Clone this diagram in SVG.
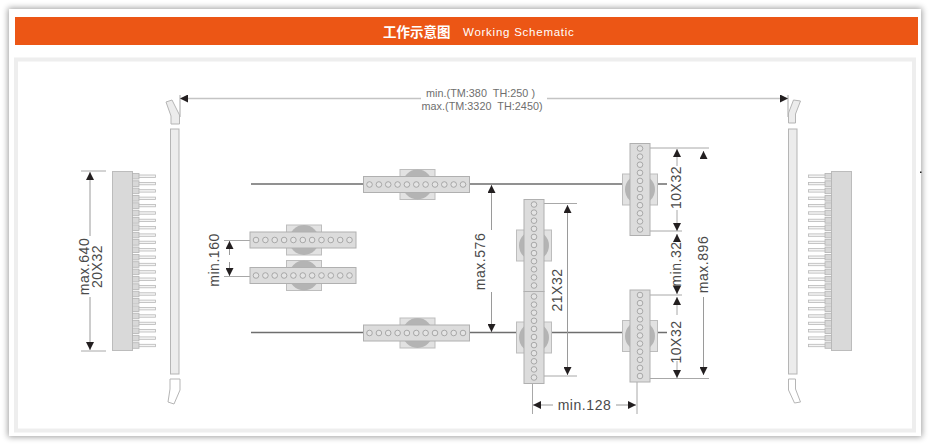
<svg xmlns="http://www.w3.org/2000/svg" xmlns:xlink="http://www.w3.org/1999/xlink" width="929" height="447" viewBox="0 0 929 447">
<style>
text{font-family:"Liberation Sans",Arial,sans-serif;fill:#4a4a4a}
.dim{font-size:14px;letter-spacing:.55px}
.top{font-size:10.8px;fill:#6e6e6e;letter-spacing:.03px}
.ln{stroke:#a8a8a8;stroke-width:1;fill:none}
.lk{stroke:#9a9a9a;stroke-width:1;fill:none}
.ar{marker-end:url(#ah)}
.wire{stroke:#6e6e6e;stroke-width:1.6;fill:none}
.plate{fill:#e2e2e2;stroke:#bdbdbd;stroke-width:1}
.disc{fill:#b4b4b4}
.bar{fill:#dcdcdc;stroke:#b0b0b0;stroke-width:1}
.hole{fill:#e4e4e4;stroke:#999;stroke-width:.8}
.rail{fill:#ececec;stroke:#b5b5b5;stroke-width:1}
.clip{fill:#ececec;stroke:#b5b5b5;stroke-width:1}
.clipo{fill:#fff;stroke:#b5b5b5;stroke-width:1}
.block{fill:#d9d9d9;stroke:#bcbcbc;stroke-width:1}
.sock{fill:#d8d8d8;stroke:#b4b4b4;stroke-width:.8}
.pin{fill:#f4f4f4;stroke:#b8b8b8;stroke-width:.8}
</style>
<defs>
<filter id="sh" x="-3%" y="-4%" width="106%" height="108%"><feGaussianBlur stdDeviation="3"/></filter>
<marker id="ah" viewBox="0 0 8 8" refX="8" refY="4" markerWidth="8" markerHeight="8" markerUnits="userSpaceOnUse" orient="auto"><path d="M0,0L8,4L0,8Z" fill="#231f20"/></marker>
<g id="hu">
<rect class="plate" x="-17.5" y="-15" width="35" height="30"/>
<circle class="disc" cx="0" cy="0" r="15"/>
<rect class="bar" x="-54" y="-8" width="106" height="16"/>
<g class="hole"><circle cx="-48" cy="0" r="2.8"/><circle cx="-38.6" cy="0" r="2.8"/><circle cx="-29.3" cy="0" r="2.8"/><circle cx="-19.9" cy="0" r="2.8"/><circle cx="-10.6" cy="0" r="2.8"/><circle cx="-1.2" cy="0" r="2.8"/><circle cx="8.1" cy="0" r="2.8"/><circle cx="17.5" cy="0" r="2.8"/><circle cx="26.8" cy="0" r="2.8"/><circle cx="36.2" cy="0" r="2.8"/><circle cx="45.5" cy="0" r="2.8"/></g>
</g>
<g id="vu">
<rect class="plate" x="-17.5" y="-15.5" width="35" height="31"/>
<circle class="disc" cx="0" cy="0" r="15"/>
<rect class="bar" x="-10" y="-46" width="20" height="92"/>
<g class="hole"><circle cx="0" cy="-41" r="2.8"/><circle cx="0" cy="-32.9" r="2.8"/><circle cx="0" cy="-24.8" r="2.8"/><circle cx="0" cy="-16.7" r="2.8"/><circle cx="0" cy="-8.6" r="2.8"/><circle cx="0" cy="-.5" r="2.8"/><circle cx="0" cy="7.6" r="2.8"/><circle cx="0" cy="15.7" r="2.8"/><circle cx="0" cy="23.8" r="2.8"/><circle cx="0" cy="31.9" r="2.8"/><circle cx="0" cy="40" r="2.8"/></g>
</g>
<g id="p"><rect class="pin" x="6" y="-1.2" width="17" height="2.4"/><rect class="sock" x="0" y="-2.8" width="6.5" height="5.6"/></g>
<g id="conn">
<rect class="block" x="0" y="0" width="20" height="179"/>
<use xlink:href="#p" x="20" y="4.7"/><use xlink:href="#p" x="20" y="12.1"/><use xlink:href="#p" x="20" y="19.4"/><use xlink:href="#p" x="20" y="26.8"/><use xlink:href="#p" x="20" y="34.1"/><use xlink:href="#p" x="20" y="41.5"/><use xlink:href="#p" x="20" y="48.9"/><use xlink:href="#p" x="20" y="56.2"/><use xlink:href="#p" x="20" y="63.6"/><use xlink:href="#p" x="20" y="70.9"/><use xlink:href="#p" x="20" y="78.3"/><use xlink:href="#p" x="20" y="85.7"/><use xlink:href="#p" x="20" y="93"/><use xlink:href="#p" x="20" y="100.4"/><use xlink:href="#p" x="20" y="107.7"/><use xlink:href="#p" x="20" y="115.1"/><use xlink:href="#p" x="20" y="122.5"/><use xlink:href="#p" x="20" y="129.8"/><use xlink:href="#p" x="20" y="137.2"/><use xlink:href="#p" x="20" y="144.5"/><use xlink:href="#p" x="20" y="151.9"/><use xlink:href="#p" x="20" y="159.3"/><use xlink:href="#p" x="20" y="166.6"/><use xlink:href="#p" x="20" y="174"/>
</g>
</defs>

<g id="frame">
<rect x="8" y="8" width="914" height="429" fill="#000" opacity=".38" filter="url(#sh)"/>
<rect x="9" y="9" width="912" height="427" fill="#fff"/>
<rect x="15" y="17" width="903" height="28" fill="#ec5615"/>
<rect x="16" y="59.5" width="898" height="371" fill="#fff" stroke="#eeeeee" stroke-width="4"/>
<rect x="920" y="171.5" width="1.5" height="1.5" fill="#222"/>
<text x="383" y="37" font-size="13.5" font-weight="700" style="font-family:'Noto Sans CJK SC','Liberation Sans',sans-serif;fill:#fff">工作示意图</text>
<text x="463" y="36" font-size="11.5" style="fill:#fff;letter-spacing:.75px">Working Schematic</text>
</g>

<g id="connectors">
<path class="wire" d="M251,184H667M251,332.5H667"/>
<g id="dim-top">
<path class="ln" d="M180,95V117M788,95V117"/>
<path class="ln ar" style="stroke:#c4c4c4;stroke-width:1.5" d="M421,98.5H180"/>
<path class="ln ar" style="stroke:#c4c4c4;stroke-width:1.5" d="M547,98.5H788"/>
</g>
<g id="dim-640">
<path class="ln" d="M81,171H106M81,351H106"/>
<path class="lk ar" d="M90,236V172"/><path class="lk ar" d="M90,297V350"/>
</g>
<g id="dim-160">
<path class="ln" d="M224,240.5H250M224,276.5H250"/>
<path class="lk ar" d="M229.5,255V241"/><path class="lk ar" d="M229.5,262V276"/>
</g>
<g id="dim-576">
<path class="lk ar" d="M491.5,230V185"/><path class="lk ar" d="M491.5,292V332"/>
</g>
<g id="dim-21x32">
<path class="ln" d="M544,203.5H577M544,376H577"/>
<path class="lk ar" d="M567.5,320V205"/><path class="lk ar" d="M567.5,320V375"/>
</g>
<g id="dim-10x32-a">
<path class="ln" d="M650,148H709M650,231H682"/>
<path class="ln ar" d="M677,166V149"/><path class="ln ar" d="M677,210V231"/>
</g>
<g id="dim-min32">
<path class="lk ar" d="M677,242V234"/><path class="lk ar" d="M677,286V294"/>
</g>
<g id="dim-10x32-b">
<path class="ln" d="M650,295H682M650,378.5H709"/>
<path class="ln ar" d="M677,315V297"/><path class="ln ar" d="M677,361V378"/>
</g>
<g id="dim-896">
<path class="lk ar" d="M703.5,158V151"/><path class="lk ar" d="M703.5,297V375"/>
</g>
<g id="dim-128">
<path class="ln" d="M532.5,383V414M637,381V414"/>
<path class="lk ar" d="M553,405H533"/><path class="lk ar" d="M616,405H636"/>
</g>
</g>

<g id="clip-tl"><path class="clip" d="M166,102L172,100L179.5,115V124H171V116Z"/></g>
<g id="rail-l"><rect class="rail" x="170.5" y="129" width="8.5" height="245"/></g>
<g id="clip-bl"><path class="clipo" d="M168,402L174,404L180,390V379H170V389Z"/></g>
<g id="clip-tr"><path class="clip" d="M788.5,123H795.5V114L800.5,101L793.5,100L788.5,113Z"/></g>
<g id="rail-r"><rect class="rail" x="788.5" y="129" width="8.5" height="245"/></g>
<g id="clip-br"><path class="clipo" d="M788.5,379H795.5V389L800.5,402L794.5,403L788.5,390Z"/></g>

<g id="conn-left"><use xlink:href="#conn" transform="translate(112.5,171.5)"/></g>
<g id="conn-right"><use xlink:href="#conn" transform="translate(851.5,171.5) scale(-1,1)"/></g>

<g id="unit-h1"><use xlink:href="#hu" x="417.5" y="184.5"/></g>
<g id="unit-h2"><use xlink:href="#hu" x="417.5" y="333"/></g>
<g id="unit-h3"><use xlink:href="#hu" x="304" y="240"/></g>
<g id="unit-h4"><use xlink:href="#hu" x="304" y="275.5"/></g>
<g id="unit-v1"><use xlink:href="#vu" x="640" y="189.5"/></g>
<g id="unit-v2"><use xlink:href="#vu" x="534" y="245.5"/></g>
<g id="unit-v3"><use xlink:href="#vu" x="534" y="337.5"/></g>
<g id="unit-v4"><use xlink:href="#vu" x="640" y="336"/></g>

<g id="labels">
<text class="top" x="426" y="97" xml:space="preserve">min.(TM:380  TH:250 )</text>
<text class="top" x="421.5" y="110" xml:space="preserve">max.(TM:3320  TH:2450)</text>
<text class="dim" transform="translate(89,266.5) rotate(-90)" text-anchor="middle">max.640</text>
<text class="dim" transform="translate(102,266.5) rotate(-90)" text-anchor="middle">20X32</text>
<text class="dim" transform="translate(219,260) rotate(-90)" text-anchor="middle">min.160</text>
<text class="dim" transform="translate(485,261.5) rotate(-90)" text-anchor="middle">max.576</text>
<text class="dim" transform="translate(561.5,290) rotate(-90)" text-anchor="middle">21X32</text>
<text class="dim" transform="translate(681,187.5) rotate(-90)" text-anchor="middle">10X32</text>
<text class="dim" transform="translate(681,264) rotate(-90)" text-anchor="middle">min.32</text>
<text class="dim" transform="translate(681,342) rotate(-90)" text-anchor="middle">10X32</text>
<text class="dim" transform="translate(707.5,264.5) rotate(-90)" text-anchor="middle">max.896</text>
<text class="dim" x="584.5" y="410" text-anchor="middle">min.128</text>
</g>
</svg>
